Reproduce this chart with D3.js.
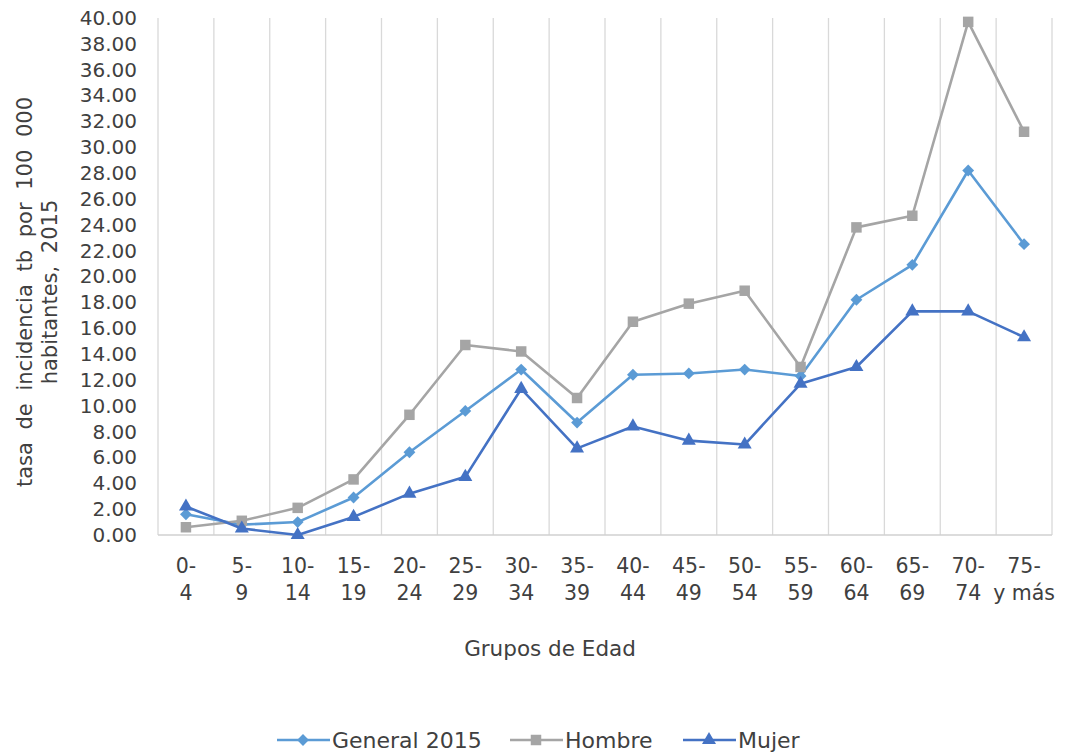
<!DOCTYPE html>
<html>
<head>
<meta charset="utf-8">
<script src="https://cdn.jsdelivr.net/npm/d3@7"></script>
<style>
  body { margin: 0; background: #fff; }
  svg { font-family: "DejaVu Sans", Verdana, sans-serif; }
</style>
</head>
<body>
<div id="chart"></div>
<script>
// age groups (two-line labels)
var grupos = ["0-|4", "5-|9", "10-|14", "15-|19", "20-|24", "25-|29", "30-|34", "35-|39",
              "40-|44", "45-|49", "50-|54", "55-|59", "60-|64", "65-|69", "70-|74", "75-|y más"];

var general = [1.6, 0.8, 1.0, 2.9, 6.4, 9.6, 12.8, 8.7, 12.4, 12.5, 12.8, 12.3, 18.2, 20.9, 28.2, 22.5];
var hombre  = [0.6, 1.1, 2.1, 4.3, 9.3, 14.7, 14.2, 10.6, 16.5, 17.9, 18.9, 13.0, 23.8, 24.7, 39.7, 31.2];
var mujer   = [2.2, 0.5, 0.0, 1.4, 3.2, 4.5, 11.3, 6.7, 8.4, 7.3, 7.0, 11.7, 13.0, 17.3, 17.3, 15.3];

var yTicks = d3.range(0, 41, 2);

var series = [
    {name: "General 2015", values: general, color: "#5B9BD5", shape: "diamond"},
    {name: "Hombre", values: hombre, color: "#A5A5A5", shape: "square"},
    {name: "Mujer", values: mujer, color: "#4472C4", shape: "triangle"}
];

var W = 1080, H = 753;
var svg = d3.select("#chart").append("svg").attr("width", W).attr("height", H);

var x = d3.scaleBand().domain(grupos).range([158, 1052]);
var y = d3.scaleLinear().domain([0, 40]).range([535, 18]);

// vertical gridlines at category boundaries
var bounds = grupos.map(function(g) { return x(g); });
bounds.push(x.range()[1]);
svg.append("g").selectAll("line")
    .data(bounds)
    .enter().append("line")
    .attr("x1", function(d) { return d; })
    .attr("x2", function(d) { return d; })
    .attr("y1", y(40))
    .attr("y2", y(0))
    .attr("stroke", "#d9d9d9")
    .attr("stroke-width", 1.3);

svg.append("line")
    .attr("x1", x.range()[0]).attr("x2", x.range()[1])
    .attr("y1", y(0)).attr("y2", y(0))
    .attr("stroke", "#d0d0d0").attr("stroke-width", 1.3);

// y axis
var yAxis = svg.append("g")
    .attr("transform", "translate(158,0)")
    .call(d3.axisLeft(y).tickValues(yTicks).tickFormat(d3.format(".2f")).tickSize(0).tickPadding(21));
yAxis.select(".domain").remove();
yAxis.selectAll("text")
    .attr("font-size", 20)
    .attr("font-family", "DejaVu Sans")
    .attr("fill", "#404040");

// x axis
var xAxis = svg.append("g")
    .attr("transform", "translate(0," + y(0) + ")")
    .call(d3.axisBottom(x).tickSize(0).tickPadding(0));
xAxis.select(".domain").remove();
xAxis.selectAll("text").each(function(d) {
    var t = d3.select(this);
    var parts = d.split("|");
    t.text(null).attr("y", 0).attr("dy", null)
        .attr("font-size", 20.5)
        .attr("font-family", "DejaVu Sans")
        .attr("fill", "#404040");
    t.append("tspan").attr("x", 0).attr("y", 38).text(parts[0]);
    t.append("tspan").attr("x", 0).attr("y", 65).text(parts[1]);
});

// axis titles
svg.append("text")
    .attr("transform", "translate(32,292) rotate(-90)")
    .attr("text-anchor", "middle")
    .attr("font-size", 21)
    .attr("word-spacing", 6)
    .attr("fill", "#404040")
    .text("tasa de incidencia tb por 100 000");
svg.append("text")
    .attr("transform", "translate(57,292) rotate(-90)")
    .attr("text-anchor", "middle")
    .attr("font-size", 21)
    .attr("word-spacing", 6)
    .attr("fill", "#404040")
    .text("habitantes, 2015");

svg.append("text")
    .attr("x", 550).attr("y", 656)
    .attr("text-anchor", "middle")
    .attr("font-size", 21.5)
    .attr("fill", "#404040")
    .text("Grupos de Edad");

function symbolFor(shape) {
    if (shape == "diamond") return d3.symbol().type(d3.symbolSquare).size(70)();
    if (shape == "square") return d3.symbol().type(d3.symbolSquare).size(110)();
    return d3.symbol().type(d3.symbolTriangle).size(85)();
}

var cx = function(i) { return x(grupos[i]) + x.bandwidth() / 2; };
var line = d3.line()
    .x(function(d, i) { return cx(i); })
    .y(function(d) { return y(d); });

series.forEach(function(s) {
    var g = svg.append("g");
    g.append("path")
        .datum(s.values)
        .attr("d", line)
        .attr("fill", "none")
        .attr("stroke", s.color)
        .attr("stroke-width", 2.6)
        .attr("stroke-linejoin", "round");
    g.selectAll("path.m")
        .data(s.values)
        .enter().append("path")
        .attr("class", "m")
        .attr("d", symbolFor(s.shape))
        .attr("transform", function(d, i) {
            return "translate(" + cx(i) + "," + y(d) + ")" + (s.shape == "diamond" ? " rotate(45)" : "");
        })
        .attr("fill", s.color);
});

// legend
var legendX = [277, 510, 683];
series.forEach(function(s, i) {
    var lg = svg.append("g").attr("transform", "translate(" + legendX[i] + ",740)");
    lg.append("line")
        .attr("x1", 0).attr("x2", 53).attr("y1", 0).attr("y2", 0)
        .attr("stroke", s.color).attr("stroke-width", 2.6);
    lg.append("path")
        .attr("d", symbolFor(s.shape))
        .attr("transform", "translate(26,0)" + (s.shape == "diamond" ? " rotate(45)" : ""))
        .attr("fill", s.color);
    lg.append("text")
        .attr("x", 55).attr("y", 8)
        .attr("font-size", 22)
        .attr("fill", "#404040")
        .text(s.name);
});
</script>
</body>
</html>
